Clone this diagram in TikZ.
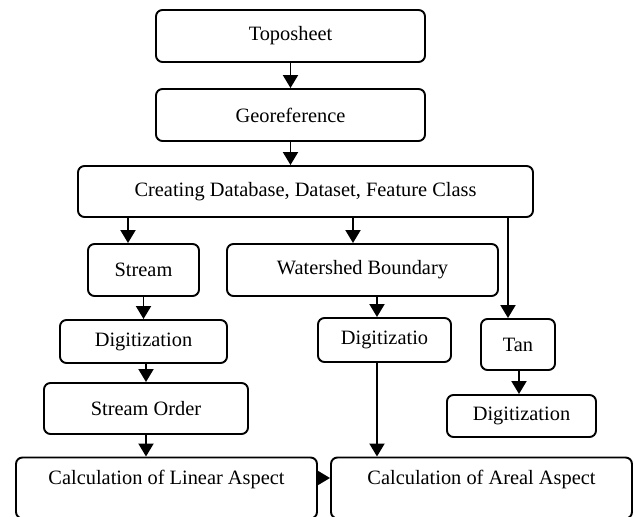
\documentclass[tikz,border=0pt]{standalone}
\usepackage{fontspec}
\setmainfont{Liberation Serif}
\usetikzlibrary{arrows.meta}
\tikzset{
    flowbox/.style={draw, rounded corners=0.13cm, line width=1.1pt, inner sep=0pt, font=\fontsize{11.6}{13}\selectfont},
    calcbox/.style={flowbox, minimum width=6.02cm, text height=0.545cm, text depth=0.675cm},
    flowarrow/.style={-{Triangle[length=0.26cm,width=0.3cm]}, line width=1.1pt}
}

\begin{document}
\begin{tikzpicture}
    \useasboundingbox (0,0) rectangle (12.7,10.34);

    \node[flowbox, minimum width=5.38cm, minimum height=1.04cm] (topo) at (5.81,9.62) {Toposheet};
    \node[flowbox, minimum width=5.38cm, minimum height=1.04cm] (geo) at (5.81,8.04) {Georeference};
    \node[flowbox, minimum width=9.10cm, minimum height=1.02cm] (create) at (6.11,6.51) {Creating Database, Dataset, Feature Class};

    \node[flowbox, minimum width=2.22cm, minimum height=1.04cm] (stream) at (2.87,4.94) {Stream};
    \node[flowbox, minimum width=5.42cm, minimum height=1.04cm] (shed) at (7.25,4.94) {Watershed Boundary};

    \node[flowbox, minimum width=3.34cm, minimum height=0.86cm] (digl) at (2.87,3.51) {Digitization};
    \node[flowbox, minimum width=2.66cm, minimum height=0.88cm] (digm) at (7.69,3.54) {Digitizatio};
    \node[flowbox, minimum width=1.48cm, minimum height=1.02cm] (tan) at (10.36,3.45) {Tan};

    \node[flowbox, minimum width=4.08cm, minimum height=1.02cm] (order) at (2.92,2.17) {Stream Order};
    \node[flowbox, minimum width=2.98cm, minimum height=0.84cm] (digr) at (10.43,2.02) {Digitization};

    \node[calcbox] (linear) at (3.33,0.58) {Calculation of Linear Aspect};
    \node[calcbox] (areal) at (9.63,0.58) {Calculation of Areal Aspect};

    % top chain
    \path [flowarrow](topo.south -| geo.north) edge (geo.north);
    \path [flowarrow](geo.south) edge (geo.south |- create.north);

    % branches
    \path [flowarrow]([xshift=-0.31cm]stream.north |- create.south) edge ([xshift=-0.31cm]stream.north);
    \path [flowarrow]([xshift=-0.19cm]shed.north |- create.south) edge ([xshift=-0.19cm]shed.north);
    \path [flowarrow]([xshift=-0.20cm]tan.north |- create.south) edge ([xshift=-0.20cm]tan.north);

    \path [flowarrow](stream.south) edge (digl.north);
    \path [flowarrow](digl.south -| order.north) edge (order.north);
    \path [flowarrow](order.south) edge (order.south |- linear.north);

    \path [flowarrow]([xshift=-0.15cm]digm.north |- shed.south) edge ([xshift=-0.15cm]digm.north);
    \path [flowarrow]([xshift=-0.15cm]digm.south) edge ([xshift=-0.15cm]digm.south |- areal.north);

    \path [flowarrow]([xshift=0.02cm]tan.south) edge ([xshift=0.02cm]tan.south |- digr.north);

    \path [flowarrow]([yshift=0.2cm]linear.east) edge ([yshift=0.2cm]areal.west);

\end{tikzpicture}
\end{document}
